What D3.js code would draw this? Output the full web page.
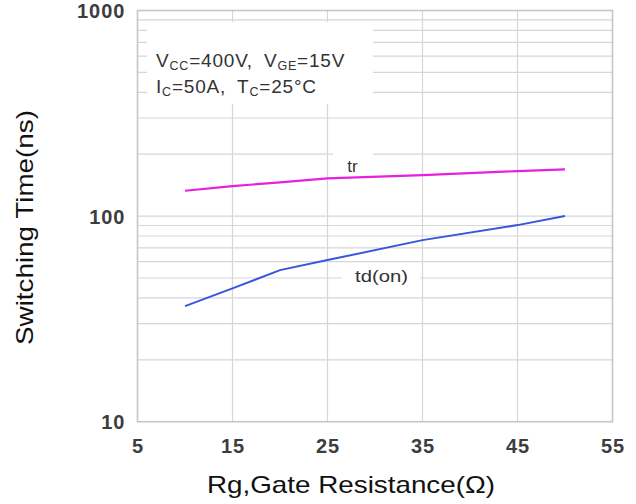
<!DOCTYPE html>
<html>
<head>
<meta charset="utf-8">
<script src="https://cdn.jsdelivr.net/npm/d3@7"></script>
<style>
  html, body { margin: 0; padding: 0; background: #fff; }
  svg { display: block; font-family: Arial, "Liberation Sans", sans-serif; }
</style>
</head>
<body>
<svg id="chart" width="636" height="504"></svg>
<script>
// ---- data ----
const xTicks = [5, 15, 25, 35, 45, 55];
const yTicks = [10, 100, 1000];
const rgTr = [10, 15, 20, 25, 35, 45, 50];
const trValues = [132.8, 140, 145.8, 152.5, 158.3, 165.5, 168.7];
const rgTd = [10, 15, 20, 25, 35, 45, 50];
const tdOnValues = [36.5, 44.5, 54.6, 61.1, 76.4, 90.4, 100];
const seriesLabels = ["tr", "td(on)"];

(function () {
const svg = d3.select("#chart");
const pLeft = 137.5, pRight = 612.5, pTop = 10.5, pBottom = 421.7;

const x = d3.scaleLinear().domain([5, 55]).range([pLeft, pRight]);
const y = d3.scaleLog().domain([10, 1000]).range([pBottom, pTop]);

// minor log gridlines
const minor = [];
[10, 100].forEach(d => { for (let k = 2; k <= 9; k++) minor.push(d * k); });
const gridH = [100].concat(minor);

const g = svg.append("g");
g.selectAll("line.gh").data(gridH).enter().append("line")
  .attr("x1", pLeft).attr("x2", pRight)
  .attr("y1", d => y(d)).attr("y2", d => y(d))
  .attr("stroke", "#d6d6d6").attr("stroke-width", 1.2);
g.selectAll("line.gv").data([15, 25, 35, 45]).enter().append("line")
  .attr("y1", pTop).attr("y2", pBottom)
  .attr("x1", d => x(d)).attr("x2", d => x(d))
  .attr("stroke", "#d6d6d6").attr("stroke-width", 1.2);

// white backgrounds behind annotations
g.append("rect").attr("x", 147).attr("y", 22).attr("width", 226).attr("height", 82).attr("fill", "#fff");
g.append("rect").attr("x", 333).attr("y", 148).attr("width", 40).attr("height", 24).attr("fill", "#fff");
g.append("rect").attr("x", 342).attr("y", 266).attr("width", 78).attr("height", 24).attr("fill", "#fff");

// frame
g.append("rect").attr("x", pLeft).attr("y", pTop).attr("width", pRight - pLeft).attr("height", pBottom - pTop)
  .attr("fill", "none").attr("stroke", "#c6c6c6").attr("stroke-width", 1.6);

// lines
const lineGen = (xs) => d3.line().x((d, i) => x(xs[i])).y(d => y(d));
svg.append("path").datum(trValues).attr("d", lineGen(rgTr))
  .attr("fill", "none").attr("stroke", "#e81ee0").attr("stroke-width", 2.2);
svg.append("path").datum(tdOnValues).attr("d", lineGen(rgTd))
  .attr("fill", "none").attr("stroke", "#3a55dc").attr("stroke-width", 2);

// series labels
svg.append("text").attr("x", 352.5).attr("y", 171.5).attr("text-anchor", "middle")
  .attr("font-size", 17).attr("fill", "#333").text(seriesLabels[0]);
svg.append("text").attr("x", 381.5).attr("y", 282).attr("text-anchor", "middle")
  .attr("font-size", 17).attr("fill", "#333").attr("textLength", 53).attr("lengthAdjust", "spacingAndGlyphs")
  .text(seriesLabels[1]);

// axes
const xAxis = d3.axisBottom(x).tickValues(xTicks).tickSize(0).tickPadding(0).tickFormat(d3.format("d"));
const xa = svg.append("g").attr("transform", `translate(0,${pBottom})`).call(xAxis);
xa.select(".domain").remove();
xa.selectAll("text").attr("dy", null).attr("y", 31.3)
  .attr("font-size", 20).attr("font-weight", "bold").attr("fill", "#3d3d3d")
  .attr("font-family", "Arial, 'Liberation Sans', sans-serif").attr("letter-spacing", 1);

const yAxis = d3.axisLeft(y).tickValues(yTicks).tickSize(0).tickPadding(0).tickFormat(d3.format("d"));
const ya = svg.append("g").attr("transform", `translate(${pLeft},0)`).call(yAxis);
ya.select(".domain").remove();
ya.selectAll("text").attr("x", -12).attr("dy", "0.36em")
  .attr("font-size", 20).attr("font-weight", "bold").attr("fill", "#3d3d3d")
  .attr("font-family", "Arial, 'Liberation Sans', sans-serif").attr("letter-spacing", 1);

// annotation text
function cond(yy, parts) {
  const t = svg.append("text").attr("x", 156).attr("y", yy).attr("font-size", 19).attr("fill", "#333")
    .attr("letter-spacing", 0.8);
  parts.forEach(p => {
    const ts = t.append("tspan").text(p[0]);
    if (p[1] === "sub") ts.attr("font-size", 12.5).attr("dy", 3);
    else if (p[1] === "up") ts.attr("dy", -3);
    else if (p[1] === "gap") ts.attr("dx", 11);
  });
}
cond(66.5, [["V"], ["CC", "sub"], ["=400V,", "up"], ["V", "gap"], ["GE", "sub"], ["=15V", "up"]]);
cond(93, [["I"], ["C", "sub"], ["=50A,", "up"], ["T", "gap"], ["C", "sub"], ["=25°C", "up"]]);

// axis titles
svg.append("text").attr("x", 207).attr("y", 493).attr("font-size", 24).attr("fill", "#111")
  .attr("textLength", 288).attr("lengthAdjust", "spacingAndGlyphs").text("Rg,Gate Resistance(Ω)");
svg.append("text").attr("transform", "translate(33,345) rotate(-90)").attr("font-size", 24).attr("fill", "#111")
  .attr("textLength", 235).attr("lengthAdjust", "spacingAndGlyphs").text("Switching Time(ns)");
})();
</script>
</body>
</html>
